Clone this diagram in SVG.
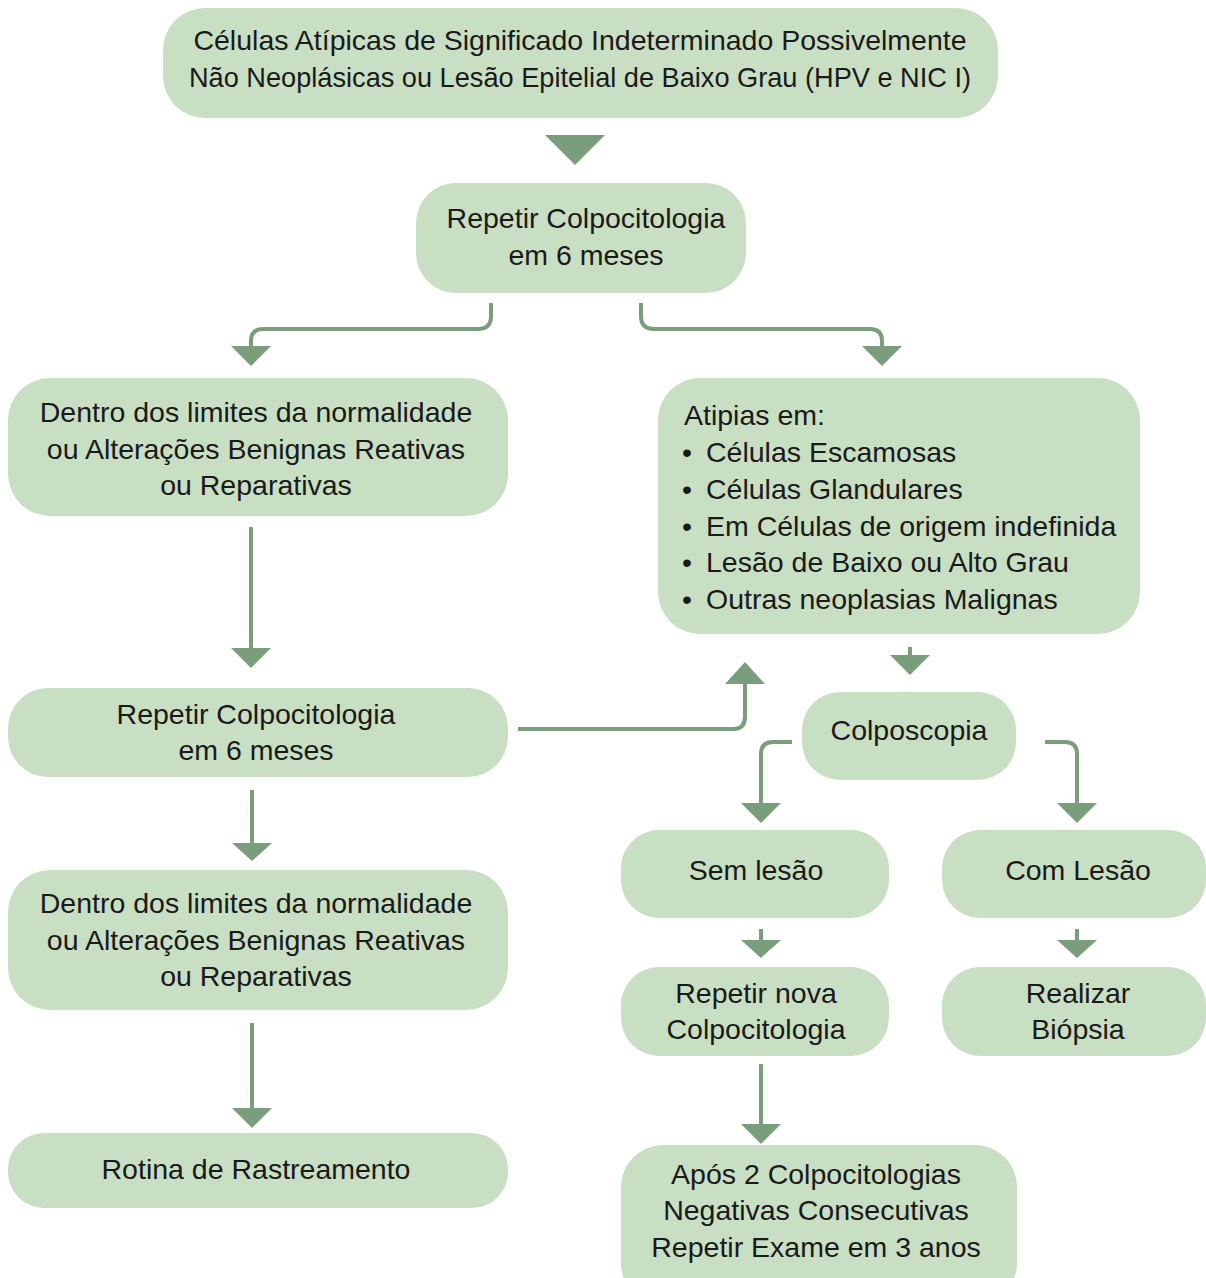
<svg xmlns="http://www.w3.org/2000/svg" width="1206" height="1278" viewBox="0 0 1206 1278">
<defs>
<style>
.box{fill:#c9dfc3;}
.t{font-family:"Liberation Sans","Noto Sans",sans-serif;font-size:28.5px;fill:#1a1a1a;text-anchor:middle;}
.l{text-anchor:start;}
.c{fill:none;stroke:#7a9e7b;stroke-width:4;}
.h{fill:#7a9e7b;}
</style>
</defs>
<rect width="1206" height="1278" fill="#ffffff"/>
<g id="n-top">
<rect class="box" x="163" y="8" width="835" height="110" rx="42"/>
<text class="t" x="580" y="50">Células Atípicas de Significado Indeterminado Possivelmente</text>
<text class="t" x="580" y="87" textLength="782" lengthAdjust="spacingAndGlyphs">Não Neoplásicas ou Lesão Epitelial de Baixo Grau (HPV e NIC I)</text>
</g>
<g id="n-repetir1">
<rect class="box" x="416" y="183" width="330" height="110" rx="40"/>
<text class="t" x="586" y="228">Repetir Colpocitologia</text>
<text class="t" x="586" y="265">em 6 meses</text>
</g>
<g id="n-normal1">
<rect class="box" x="8" y="378" width="500" height="138" rx="42"/>
<text class="t" x="256" y="422">Dentro dos limites da normalidade</text>
<text class="t" x="256" y="459">ou Alterações Benignas Reativas</text>
<text class="t" x="256" y="495">ou Reparativas</text>
</g>
<g id="n-atipias">
<rect class="box" x="658" y="378" width="482" height="256" rx="42"/>
<text class="t l" x="684" y="425">Atipias em:</text>
<text class="t l" x="682" y="462">•</text><text class="t l" x="706" y="462">Células Escamosas</text>
<text class="t l" x="682" y="499">•</text><text class="t l" x="706" y="499">Células Glandulares</text>
<text class="t l" x="682" y="536">•</text><text class="t l" x="706" y="536">Em Células de origem indefinida</text>
<text class="t l" x="682" y="572">•</text><text class="t l" x="706" y="572">Lesão de Baixo ou Alto Grau</text>
<text class="t l" x="682" y="609">•</text><text class="t l" x="706" y="609">Outras neoplasias Malignas</text>
</g>
<g id="n-repetir2">
<rect class="box" x="8" y="688" width="500" height="89" rx="40"/>
<text class="t" x="256" y="724">Repetir Colpocitologia</text>
<text class="t" x="256" y="760">em 6 meses</text>
</g>
<g id="n-colposcopia">
<rect class="box" x="802" y="692" width="214" height="88" rx="38"/>
<text class="t" x="909" y="740">Colposcopia</text>
</g>
<g id="n-normal2">
<rect class="box" x="8" y="870" width="500" height="140" rx="42"/>
<text class="t" x="256" y="913">Dentro dos limites da normalidade</text>
<text class="t" x="256" y="950">ou Alterações Benignas Reativas</text>
<text class="t" x="256" y="986">ou Reparativas</text>
</g>
<g id="n-semlesao">
<rect class="box" x="621" y="830" width="268" height="88" rx="38"/>
<text class="t" x="756" y="880">Sem lesão</text>
</g>
<g id="n-comlesao">
<rect class="box" x="942" y="830" width="264" height="88" rx="38"/>
<text class="t" x="1078" y="880">Com Lesão</text>
</g>
<g id="n-repetirnova">
<rect class="box" x="621" y="967" width="268" height="89" rx="38"/>
<text class="t" x="756" y="1003">Repetir nova</text>
<text class="t" x="756" y="1039">Colpocitologia</text>
</g>
<g id="n-biopsia">
<rect class="box" x="942" y="967" width="264" height="89" rx="38"/>
<text class="t" x="1078" y="1003">Realizar</text>
<text class="t" x="1078" y="1039">Biópsia</text>
</g>
<g id="n-rotina">
<rect class="box" x="8" y="1133" width="500" height="75" rx="36"/>
<text class="t" x="256" y="1179">Rotina de Rastreamento</text>
</g>
<g id="n-apos">
<rect class="box" x="621" y="1145" width="396" height="160" rx="42"/>
<text class="t" x="816" y="1184">Após 2 Colpocitologias</text>
<text class="t" x="816" y="1220">Negativas Consecutivas</text>
<text class="t" x="816" y="1257">Repetir Exame em 3 anos</text>
</g>
<g id="connectors">
<polygon class="h" points="545,135 605,135 575,165"/>
<path class="c" d="M491,303 V316 Q491,329 478,329 H263 Q251,329 251,341 V347"/>
<polygon class="h" points="231,346 271,346 251,366"/>
<path class="c" d="M641,303 V316 Q641,329 654,329 H870 Q882,329 882,341 V347"/>
<polygon class="h" points="862,346 902,346 882,366"/>
<path class="c" d="M251,527 V650"/>
<polygon class="h" points="231,648 271,648 251,668"/>
<path class="c" d="M910,647 V657"/>
<polygon class="h" points="890,655 930,655 910,675"/>
<path class="c" d="M518,729 H733 Q745,729 745,717 V682"/>
<polygon class="h" points="725,684 765,684 745,662"/>
<path class="c" d="M792,742 H773 Q761,742 761,754 V805"/>
<polygon class="h" points="741,803 781,803 761,823"/>
<path class="c" d="M1045,742 H1065 Q1077,742 1077,754 V805"/>
<polygon class="h" points="1057,803 1097,803 1077,823"/>
<path class="c" d="M252,790 V845"/>
<polygon class="h" points="232,843 272,843 252,861"/>
<path class="c" d="M252,1023 V1110"/>
<polygon class="h" points="232,1108 272,1108 252,1128"/>
<path class="c" d="M761,929 V942"/>
<polygon class="h" points="741,940 781,940 761,958"/>
<path class="c" d="M1077,929 V942"/>
<polygon class="h" points="1057,940 1097,940 1077,958"/>
<path class="c" d="M761,1064 V1126"/>
<polygon class="h" points="741,1124 781,1124 761,1144"/>
</g>
</svg>
